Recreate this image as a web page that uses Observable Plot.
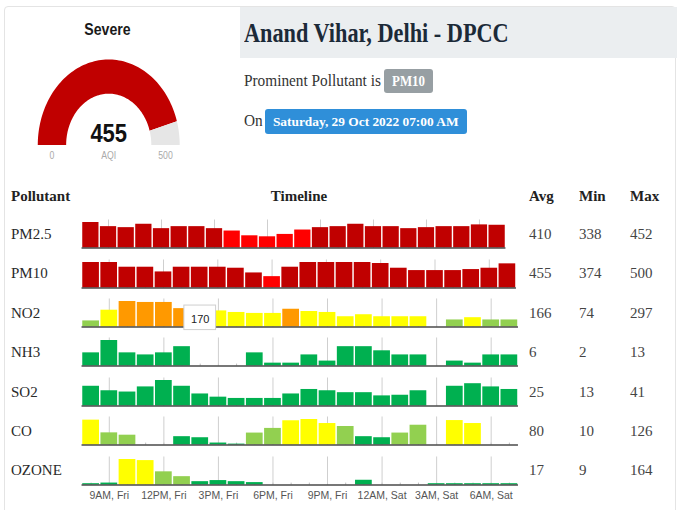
<!DOCTYPE html>
<html>
<head>
<meta charset="utf-8">
<script src="https://cdn.jsdelivr.net/npm/d3@7"></script>
<script src="https://cdn.jsdelivr.net/npm/@observablehq/plot@0.6"></script>
<style>
  html, body { margin: 0; padding: 0; background: #fff; }
  body { width: 680px; height: 510px; overflow: hidden; position: relative; }
  #card { position: absolute; left: 4px; top: 6px; width: 672px; height: 520px; border: 1px solid #e4e4e4; border-radius: 4px; box-sizing: border-box; }
  #band { position: absolute; left: 240px; top: 7px; width: 437px; height: 51px; background: #ebeef0; }
  .plotbox { position: absolute; }
  .plotbox svg { display: block; overflow: visible; }
</style>
</head>
<body>
<div id="card"></div>
<div id="band"></div>
<script>
// ---------------- data ----------------
const station = "Anand Vihar, Delhi - DPCC";
const prominentPollutant = "PM10";
const reportTime = "Saturday, 29 Oct 2022 07:00 AM";
const aqiValue = 455;
const aqiCategory = "Severe";
const gaugeMin = 0;
const gaugeMax = 500;

const hours = ["8AM, Fri","9AM, Fri","10AM, Fri","11AM, Fri","12PM, Fri","1PM, Fri","2PM, Fri","3PM, Fri",
  "4PM, Fri","5PM, Fri","6PM, Fri","7PM, Fri","8PM, Fri","9PM, Fri","10PM, Fri","11PM, Fri",
  "12AM, Sat","1AM, Sat","2AM, Sat","3AM, Sat","4AM, Sat","5AM, Sat","6AM, Sat","7AM, Sat"];
const tickHours = ["9AM, Fri","12PM, Fri","3PM, Fri","6PM, Fri","9PM, Fri","12AM, Sat","3AM, Sat","6AM, Sat"];

const pollutants = ["PM2.5","PM10","NO2","NH3","SO2","CO","OZONE"];
const avgValues = [410, 455, 166, 6, 25, 80, 17];
const minValues = [338, 374, 74, 2, 13, 10, 9];
const maxValues = [452, 500, 297, 13, 41, 126, 164];

const pm25  = [452,419,411,438,403,419,419,403,384,346,338,357,392,411,419,438,419,419,403,411,419,419,433,430];
const pm10  = [500,500,458,458,416,458,458,458,449,407,374,458,500,500,500,500,491,449,428,428,428,437,449,488];
const no2   = [74,197,297,286,286,215,170,189,171,160,160,208,182,171,122,145,122,122,122,null,85,111,85,85];
const nh3   = [7,13,7,6,7,10,null,null,null,7,2,2,6,3,10,10,8,6,6,null,3,2,6,6];
const so2   = [32,25,23,31,41,32,20,15,13,13,13,20,27,25,22,22,17,18,25,null,32,36,31,27];
const co    = [123,63,52,null,null,45,40,15,10,62,84,120,126,107,93,45,40,62,99,null,121,107,null,null];
const ozone = [9,13,164,157,85,54,22,29,22,16,null,null,null,null,null,31,null,null,null,9,9,9,9,9];

// AQI category of each bar (G Good, S Satisfactory, M Moderate, P Poor, VP Very Poor, SV Severe)
const pm25Cat  = ["SV","SV","SV","SV","SV","SV","SV","SV","VP","VP","VP","VP","VP","SV","SV","SV","SV","SV","SV","SV","SV","SV","SV","SV"];
const pm10Cat  = ["SV","SV","SV","SV","SV","SV","SV","SV","SV","SV","VP","SV","SV","SV","SV","SV","SV","SV","SV","SV","SV","SV","SV","SV"];
const no2Cat   = ["S","M","P","P","P","P","M","M","M","M","M","P","M","M","M","M","M","M","M",null,"S","M","S","S"];
const nh3Cat   = ["G","G","G","G","G","G",null,null,null,"G","G","G","G","G","G","G","G","G","G",null,"G","G","G","G"];
const so2Cat   = ["G","G","G","G","G","G","G","G","G","G","G","G","G","G","G","G","G","G","G",null,"G","G","G","G"];
const coCat    = ["M","S","S",null,null,"G","G","G","G","S","S","M","M","M","S","G","G","S","S",null,"M","M",null,null];
const ozoneCat = ["G","G","M","M","S","S","G","G","G","G",null,null,null,null,null,"G",null,null,null,"G","G","G","G","G"];

const catCodes  = ["G","S","M","P","VP","SV"];
const catColors = ["#00b050","#92d050","#ffff00","#ff9900","#ff0000","#c00000"];

// lower end of each row's value scale
const rowFloor = [248, 272, 3, 0.57, 1.07, 5.3, 0];

// hovered hour shown in the NO2 tooltip
const no2TipHour = "2PM, Fri";

// ---------------- layout helpers ----------------
const SERIF = '"Liberation Serif","DejaVu Serif",serif';
const SANS = '"Liberation Sans","DejaVu Sans",Arial,sans-serif';

function label(parent, str, o) {
  const fam = o.family || SERIF;
  const asc = fam === SANS ? 0.8465 : 0.8375;
  const d = document.createElement("div");
  d.textContent = str;
  d.style.position = "absolute";
  d.style.whiteSpace = "nowrap";
  d.style.font = `${o.weight || 400} ${o.size}px ${fam}`;
  d.style.lineHeight = "1";
  d.style.color = o.color || "#333";
  d.style.top = (o.y - o.size * asc) + "px";
  d.style.left = o.x + "px";
  const sx = o.sx || 1;
  if (o.anchor === "middle") {
    d.style.transformOrigin = "50% 0";
    d.style.transform = `translateX(-50%) scaleX(${sx})`;
  } else {
    d.style.transformOrigin = "0 0";
    d.style.transform = `scaleX(${sx})`;
  }
  parent.appendChild(d);
  return d;
}

function badge(str, x, y, w, h, bg, size, sx) {
  const d = document.createElement("div");
  Object.assign(d.style, {position: "absolute", left: x + "px", top: y + "px", width: w + "px", height: h + "px",
    background: bg, borderRadius: "3px", display: "flex", alignItems: "center", justifyContent: "center"});
  const s = document.createElement("span");
  s.textContent = str;
  s.style.font = `700 ${size}px ${SERIF}`;
  s.style.lineHeight = "1";
  s.style.color = "#fff";
  s.style.whiteSpace = "nowrap";
  s.style.display = "inline-block";
  s.style.transform = `scaleX(${sx})`;
  d.appendChild(s);
  document.body.appendChild(d);
}

const body = document.body;

// ---------------- gauge panel (horizontally condensed like the source) ----------------
const panel = document.createElement("div");
Object.assign(panel.style, {position: "absolute", left: "0px", top: "0px", width: "290px", height: "180px",
  transformOrigin: "0 0", transform: "scaleX(0.83)"});
body.appendChild(panel);
label(panel, aqiCategory, {x: 129.5, y: 35, size: 17, weight: 700, family: SANS, color: "#1a1a1a", anchor: "middle"});

const R_IN = 0.6, R_MID = (1 + R_IN) / 2;
const angle = d3.scaleLinear().domain([gaugeMin, gaugeMax]).range([Math.PI, 0]);
function ring(v0, v1) {
  const n = 90, pts = [];
  for (let i = 0; i <= n; i++) { const a = angle(v0 + (v1 - v0) * i / n); pts.push([Math.cos(a), Math.sin(a)]); }
  for (let i = n; i >= 0; i--) { const a = angle(v0 + (v1 - v0) * i / n); pts.push([R_IN * Math.cos(a), R_IN * Math.sin(a)]); }
  return pts;
}
const gauge = Plot.plot({
  width: 171, height: 107.5,
  marginLeft: 0, marginRight: 0, marginTop: 0, marginBottom: 22,
  style: {background: "transparent", overflow: "visible"},
  x: {domain: [-1, 1], axis: null},
  y: {domain: [0, 1], axis: null},
  marks: [
    Plot.line(ring(gaugeMin, aqiValue), {x: d => d[0], y: d => d[1], fill: "#c00000", stroke: "none"}),
    Plot.line(ring(aqiValue, gaugeMax), {x: d => d[0], y: d => d[1], fill: "#e6e6e6", stroke: "none"}),
    Plot.text([aqiValue], {x: 0, y: 0, text: d => String(d), lineAnchor: "bottom", dy: -2.6,
      fontSize: 26.5, fontWeight: "bold", fontFamily: SANS, fill: "#111"}),
    Plot.text([gaugeMin, gaugeMax], {x: v => R_MID * Math.cos(angle(v)), y: 0, text: d => String(d),
      lineAnchor: "bottom", dy: 13.7, fontSize: 10.5, fontFamily: SANS, fill: "#aaa"}),
    Plot.text(["AQI"], {x: 0, y: 0, text: d => d, lineAnchor: "bottom", dy: 13.7, fontSize: 10.5, fontFamily: SANS, fill: "#aaa"})
  ]
});
const gbox = document.createElement("div");
gbox.className = "plotbox";
gbox.style.left = "44.6px";
gbox.style.top = "58.8px";
gbox.appendChild(gauge);
panel.appendChild(gbox);

// ---------------- header ----------------
label(body, station, {x: 244, y: 43, size: 27, weight: 700, color: "#1c2a38", sx: 0.825});
label(body, "Prominent Pollutant is", {x: 244, y: 86.7, size: 17, color: "#333", sx: 0.9});
badge(prominentPollutant, 384, 69, 48.7, 24.3, "#979fa3", 14.5, 0.89);
label(body, "On", {x: 244, y: 126.7, size: 17, color: "#333", sx: 0.9});
badge(reportTime, 265, 109.3, 201.7, 25, "#2f8fd9", 13.5, 0.99);

// ---------------- table header ----------------
label(body, "Pollutant", {x: 11, y: 201.7, size: 15, weight: 700, color: "#222"});
label(body, "Timeline", {x: 299, y: 201.7, size: 15, weight: 700, color: "#222", anchor: "middle"});
label(body, "Avg", {x: 529, y: 201.7, size: 15, weight: 700, color: "#222"});
label(body, "Min", {x: 579, y: 201.7, size: 15, weight: 700, color: "#222"});
label(body, "Max", {x: 630, y: 201.7, size: 15, weight: 700, color: "#222"});

// ---------------- rows ----------------
const rowValues = [pm25, pm10, no2, nh3, so2, co, ozone];
const rowCats = [pm25Cat, pm10Cat, no2Cat, nh3Cat, so2Cat, coCat, ozoneCat];
const rowRight = [505.5, 516, 518, 518, 518, 518, 518];
const BAR_H = 25.6, MT = 5;

pollutants.forEach((name, k) => {
  const base = 247.7 + 39.43 * k;
  const isLast = k === pollutants.length - 1;
  const mb = isLast ? 21 : 3;
  const H = MT + BAR_H + mb;
  const lo = rowFloor[k];
  const data = hours.map((h, i) => ({hour: h, value: rowValues[k][i], cat: rowCats[k][i]}))
    .filter(d => d.value != null);
  const marks = [
    Plot.ruleX(hours, {x: d => d, stroke: "#bdbdbd", strokeWidth: 1, insetTop: BAR_H - 2}),
    Plot.ruleX(tickHours, {x: d => d, stroke: "#cfcfcf", strokeWidth: 1, insetTop: -2.5}),
    Plot.barY(data, {x: "hour", y1: lo, y2: "value", fill: "cat"}),
    Plot.ruleY([lo], {stroke: "#4a4a4a", strokeWidth: 1.5})
  ];
  if (name === "NO2") {
    const tip = data.filter(d => d.hour === no2TipHour);
    marks.push(
      Plot.barY(tip, {x: "hour", y1: lo, y2: "value", fill: "#fff", stroke: "#cfcfcf", strokeWidth: 1,
        insetLeft: -7.5, insetRight: -7.5, insetTop: -7, insetBottom: -3}),
      Plot.text(tip, {x: "hour", y: "value", text: d => String(d.value), dy: 6.5,
        fontSize: 11, fontFamily: SANS, fill: "#222"})
    );
  }
  if (isLast) {
    marks.push(Plot.axisX(tickHours, {tickSize: 0, tickPadding: 6, label: null,
      fontSize: 10.5, fontFamily: SANS, fill: "#555"}));
  }
  const p = Plot.plot({
    width: 530, height: H,
    marginLeft: 81.5, marginRight: 530 - rowRight[k], marginTop: MT, marginBottom: mb,
    style: {background: "transparent", overflow: "visible"},
    x: {type: "band", domain: hours, paddingInner: 0.08, paddingOuter: 0.04, round: false, axis: null},
    y: {domain: [lo, maxValues[k]], axis: null},
    color: {domain: catCodes, range: catColors},
    marks
  });
  const box = document.createElement("div");
  box.className = "plotbox";
  box.style.left = "0px";
  box.style.top = (base - MT - BAR_H) + "px";
  box.appendChild(p);
  body.appendChild(box);

  const ty = base - 8.3;
  label(body, name, {x: 11, y: ty, size: 15, color: "#2a2a2a"});
  label(body, String(avgValues[k]), {x: 529, y: ty, size: 15, color: "#444"});
  label(body, String(minValues[k]), {x: 579, y: ty, size: 15, color: "#444"});
  label(body, String(maxValues[k]), {x: 630, y: ty, size: 15, color: "#444"});
});
</script>
</body>
</html>
